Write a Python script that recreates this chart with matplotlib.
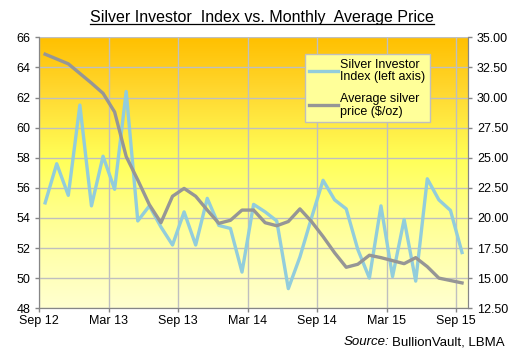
import numpy as np
import matplotlib
matplotlib.use("Agg")
import matplotlib.pyplot as plt
from matplotlib.colors import LinearSegmentedColormap
from matplotlib.lines import Line2D

plt.rcParams['font.family'] = ['Liberation Sans', 'DejaVu Sans']

# monthly, Sep 2012 .. Sep 2015
index_vals = [55.0, 57.6, 55.5, 61.5, 54.8, 58.1, 55.9, 62.4, 53.8, 54.8,
              53.4, 52.2, 54.4, 52.2, 55.3, 53.5, 53.3, 50.4, 54.9, 54.4,
              53.8, 49.3, 51.4, 54.0, 56.5, 55.2, 54.6, 51.9, 50.0, 54.8,
              50.1, 53.9, 49.8, 56.6, 55.2, 54.5, 51.7]
price_vals = [33.6, 33.2, 32.8, 32.0, 31.2, 30.35, 28.8, 25.1, 23.15, 21.1,
              19.6, 21.8, 22.45, 21.8, 20.65, 19.55, 19.8, 20.65, 20.65, 19.6,
              19.35, 19.7, 20.75, 19.7, 18.45, 17.1, 15.9, 16.15, 16.9, 16.7,
              16.45, 16.2, 16.7, 15.95, 15.0, 14.8, 14.6]
tick_labels = ["Sep 12", "Mar 13", "Sep 13", "Mar 14", "Sep 14", "Mar 15", "Sep 15"]

x = np.arange(len(index_vals))

fig = plt.figure(figsize=(5.11, 3.59), dpi=100)
ax1 = fig.add_axes([0.077, 0.1415, 0.8385, 0.7545])
ax2 = ax1.twinx()

# background gradient, orange at the top to pale yellow at the bottom
cmap = LinearSegmentedColormap.from_list(
    "bg", [(0.0, "#FFC000"), (0.2, "#FFD830"), (0.45, "#FFFF58"),
           (0.7, "#FFFF98"), (1.0, "#FFFFD0")])
grad = np.linspace(0, 1, 256).reshape(-1, 1)
ax1.imshow(grad, cmap=cmap, aspect='auto', extent=[-0.5, 36.5, 48, 66],
           origin='upper', zorder=0)

grid_c = "#BFBFBF"
axis_c = "#868686"

ax1.set_xlim(-0.5, 36.5)
ax1.set_ylim(48, 66)
ax1.set_yticks(np.arange(48, 67, 2))
ax2.set_ylim(12.5, 35)
ax2.set_yticks(np.arange(12.5, 35.1, 2.5))
ax2.set_yticklabels(["%.2f" % v for v in np.arange(12.5, 35.1, 2.5)])

xt = np.arange(-0.5, 37, 6)
ax1.set_xticks(xt)
ax1.set_xticklabels(tick_labels)

ax1.grid(True, color=grid_c, linewidth=1.0, zorder=1)
ax1.set_axisbelow(False)

l1, = ax1.plot(x, index_vals, color="#92CDDC", linewidth=2.4, zorder=3)
l2, = ax2.plot(x, price_vals, color="#969696", linewidth=2.4, zorder=3)

for ax in (ax1, ax2):
    for s in ax.spines.values():
        s.set_color(axis_c)
    ax.spines['top'].set_visible(False)
    ax.tick_params(colors=axis_c, labelcolor="black", labelsize=9, length=3, width=1)
ax1.tick_params(axis='x', pad=2)

leg = ax2.legend([l1, l2], ["Silver Investor\nIndex (left axis)", "Average silver\nprice ($/oz)"],
                 loc='upper left', bbox_to_anchor=(0.62, 0.938), borderaxespad=0,
                 fontsize=9, frameon=True, fancybox=False, handlelength=2.3,
                 handletextpad=0.15, borderpad=0.35, labelspacing=0.75)
for t in leg.get_texts():
    t.set_linespacing(1.1)
leg.get_frame().set_facecolor("#FFFF99")
leg.get_frame().set_edgecolor("#BFBFBF")
leg.get_frame().set_alpha(1)

title = fig.text(0.513, 0.951, "Silver Investor  Index vs. Monthly  Average Price",
                 ha='center', va='center', fontsize=11.5)
fig.canvas.draw()
bb = title.get_window_extent().transformed(fig.transFigure.inverted())
fig.add_artist(Line2D([bb.x0, bb.x1], [bb.y0 + 0.002, bb.y0 + 0.002],
                      color='black', linewidth=0.9, transform=fig.transFigure))

src = fig.text(0.988, 0.03, "BullionVault, LBMA", ha='right', va='bottom', fontsize=9.5)
bb2 = src.get_window_extent().transformed(fig.transFigure.inverted())
fig.text(bb2.x0 - 0.006, 0.03, "Source:", ha='right', va='bottom', fontsize=9.5, style='italic')

fig.savefig("out.png", dpi=100)
